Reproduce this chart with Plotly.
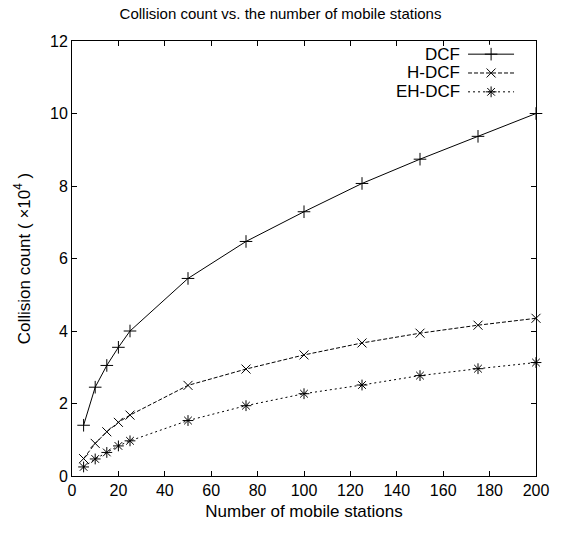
import plotly.graph_objects as go

stations = [5, 10, 15, 20, 25, 50, 75, 100, 125, 150, 175, 200]
dcf = [1.40, 2.45, 3.05, 3.55, 4.00, 5.45, 6.47, 7.29, 8.07, 8.74, 9.37, 10.0]
h_dcf = [0.48, 0.90, 1.22, 1.48, 1.68, 2.50, 2.95, 3.34, 3.67, 3.94, 4.16, 4.35]
eh_dcf = [0.25, 0.47, 0.65, 0.83, 0.97, 1.53, 1.94, 2.27, 2.51, 2.77, 2.96, 3.13]

series_names = ["DCF", "H-DCF", "EH-DCF"]
series_values = [dcf, h_dcf, eh_dcf]
dashes = ["solid", "4px,2px", "2px,3px"]
symbols = ["cross-thin", "x-thin", "asterisk"]

x_ticks = [0, 20, 40, 60, 80, 100, 120, 140, 160, 180, 200]
y_ticks = [0, 2, 4, 6, 8, 10, 12]

FONT = "Liberation Sans, Arial, Helvetica, sans-serif"

fig = go.Figure()
for name, vals, dash, sym in zip(series_names, series_values, dashes, symbols):
    fig.add_trace(go.Scatter(
        x=stations, y=vals, name=name, mode="lines+markers",
        line=dict(color="black", width=1, dash=dash),
        marker=dict(symbol=sym, size=9, color="black",
                    line=dict(color="black", width=1)),
        showlegend=False, cliponaxis=False,
    ))

# manual legend (text on the left, sample on the right) on an overlay axis
leg_rows = [2, 1, 0]
for name, dash, sym, row in zip(series_names, dashes, symbols, leg_rows):
    fig.add_trace(go.Scatter(
        x=[0, 0.5, 1], y=[row, row, row], mode="lines",
        line=dict(color="black", width=1, dash=dash),
        xaxis="x2", yaxis="y2", showlegend=False, hoverinfo="skip",
    ))
    fig.add_trace(go.Scatter(
        x=[0.5], y=[row], mode="markers",
        marker=dict(symbol=sym, size=9, color="black",
                    line=dict(color="black", width=1)),
        xaxis="x2", yaxis="y2", showlegend=False, hoverinfo="skip",
    ))
    fig.add_annotation(
        x=0.840, y=row, xref="paper", yref="y2", text=name, showarrow=False,
        xanchor="right", yanchor="middle",
        font=dict(family=FONT, size=17, color="black"),
    )

axis_common = dict(
    showgrid=False, zeroline=False, showline=True, linecolor="black",
    linewidth=1, mirror="allticks", ticks="inside", ticklen=5,
    tickcolor="black", tickfont=dict(family=FONT, size=16, color="black"),
)

fig.update_layout(
    width=561, height=534,
    paper_bgcolor="white", plot_bgcolor="white",
    margin=dict(l=72, r=18, t=41, b=58),
    title=dict(text="Collision count vs. the number of mobile stations",
               x=0.5, xanchor="center", y=0.975, yanchor="middle",
               font=dict(family=FONT, size=15, color="black")),
    xaxis=dict(range=[0, 200], tickvals=x_ticks,
               title=dict(text="Number of mobile stations", standoff=6,
                          font=dict(family=FONT, size=17, color="black")),
               **axis_common),
    yaxis=dict(range=[0, 12], tickvals=y_ticks,
               title=dict(text="Collision count ( ×10<sup>4</sup> )", standoff=15,
                          font=dict(family=FONT, size=17, color="black")),
               **axis_common),
    xaxis2=dict(domain=[0.8535, 0.953], range=[0, 1], visible=False,
                anchor="y2", fixedrange=True),
    yaxis2=dict(domain=[0.8615, 0.9914], range=[-0.5, 2.5], visible=False,
                anchor="x2", fixedrange=True),
    showlegend=False,
)

fig.write_html("out.html", config={"displayModeBar": False},
               post_script="document.body.style.margin='0';document.body.style.overflow='hidden';")
